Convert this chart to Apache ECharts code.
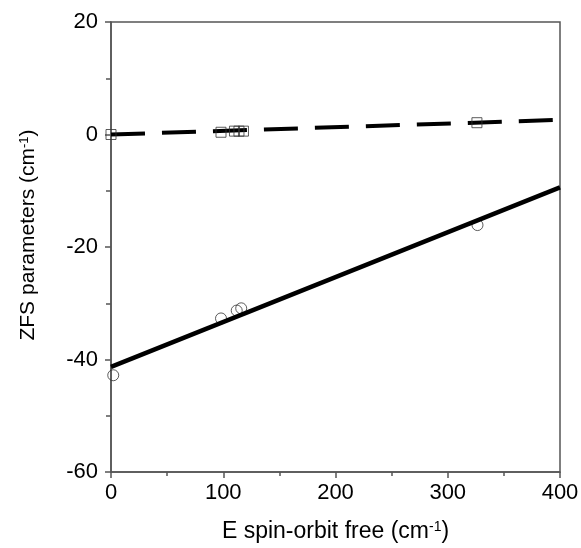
<!DOCTYPE html>
<html>
<head>
<meta charset="utf-8">
<script src="https://cdn.jsdelivr.net/npm/echarts@6/dist/echarts.min.js"></script>
<style>
  html, body { margin: 0; padding: 0; background: #fff; }
  #graph { width: 581px; height: 548px; }
</style>
</head>
<body>
<div id="graph"></div>
<script>
	var myChart = echarts.init(document.getElementById('graph'));

	// squares (upper set) and circles (lower set)
	var squareX = [0, 98, 110, 114, 118, 326];
	var squareY = [0, 0.4, 0.6, 0.6, 0.6, 2.1];
	var circleX = [2, 98, 112, 116, 326.5];
	var circleY = [-42.8, -32.7, -31.3, -30.9, -16.1];
	// fitted lines, end points
	var dashX = [0, 400];
	var dashY = [0, 2.6];
	var solidX = [0, 400];
	var solidY = [-41.3, -9.4];

	function pairs(xs, ys) {
		var out = [];
		for (var i = 0; i < xs.length; i++) {
			out.push([xs[i], ys[i]]);
		}
		return out;
	}

	var font = 'Liberation Sans, Arial, sans-serif';
	var axisColor = '#555';

	myChart.setOption({
		animation: false,
		grid: {
			left: 111, right: 21, top: 22, bottom: 76,
			outerBoundsMode: 'none',
			containLabel: false,
			show: true, borderColor: axisColor, borderWidth: 1.5
		},
		xAxis: {
			type: 'value',
			min: 0, max: 400, interval: 100,
			name: '{a|E spin-orbit free (cm}{s|-1}{a|)}',
			nameLocation: 'middle',
			nameGap: 48,
			nameTextStyle: {
				rich: {
					a: { fontFamily: font, fontSize: 23, color: '#000', verticalAlign: 'bottom' },
					s: { fontFamily: font, fontSize: 14, color: '#000', verticalAlign: 'top' }
				}
			},
			axisLine: { show: true, onZero: false, lineStyle: { color: axisColor, width: 1.5 } },
			axisTick: { show: true, length: 6, lineStyle: { color: axisColor, width: 1.5 } },
			minorTick: { show: true, splitNumber: 2, length: 4, lineStyle: { color: axisColor, width: 1.5 } },
			splitLine: { show: false },
			axisLabel: { fontFamily: font, fontSize: 22, color: '#000', margin: 10 }
		},
		yAxis: {
			type: 'value',
			min: -60, max: 20, interval: 20,
			name: '{a|ZFS parameters (cm}{s|-1}{a|)}',
			nameLocation: 'middle',
			nameRotate: 90,
			nameGap: 72,
			nameTextStyle: {
				padding: [0, 0, 0, 24],
				rich: {
					a: { fontFamily: font, fontSize: 21, color: '#000', verticalAlign: 'bottom' },
					s: { fontFamily: font, fontSize: 13, color: '#000', verticalAlign: 'top' }
				}
			},
			axisLine: { show: true, onZero: false, lineStyle: { color: axisColor, width: 1.5 } },
			axisTick: { show: true, length: 6, lineStyle: { color: axisColor, width: 1.5 } },
			minorTick: { show: true, splitNumber: 2, length: 5, lineStyle: { color: axisColor, width: 1.5 } },
			splitLine: { show: false },
			axisLabel: { fontFamily: font, fontSize: 22, color: '#000', margin: 13 }
		},
		series: [
			{
				type: 'line',
				data: pairs(dashX, dashY),
				showSymbol: false,
				lineStyle: { color: '#000', width: 4, type: [34, 17] },
				z: 2
			},
			{
				type: 'line',
				data: pairs(solidX, solidY),
				showSymbol: false,
				lineStyle: { color: '#000', width: 4.5 },
				z: 2
			},
			{
				type: 'scatter',
				data: pairs(squareX, squareY),
				symbol: 'rect',
				symbolSize: 10,
				itemStyle: { color: 'rgba(255,255,255,0)', borderColor: '#333', borderWidth: 1 },
				z: 3
			},
			{
				type: 'scatter',
				data: pairs(circleX, circleY),
				symbol: 'circle',
				symbolSize: 11,
				itemStyle: { color: 'rgba(255,255,255,0)', borderColor: '#333', borderWidth: 1 },
				z: 1
			}
		]
	});
</script>
</body>
</html>
